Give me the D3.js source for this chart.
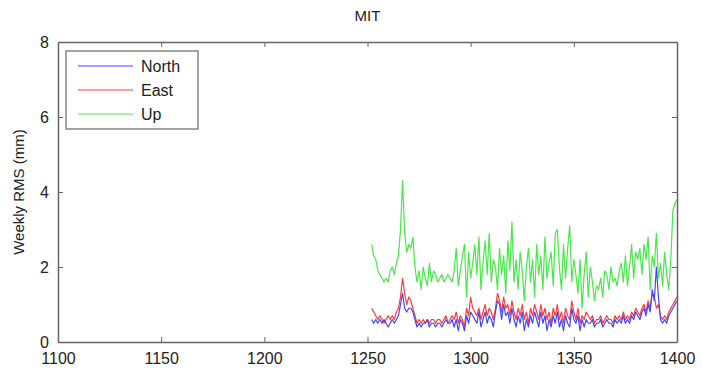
<!DOCTYPE html>
<html>
<head>
<meta charset="utf-8">
<script src="https://cdn.jsdelivr.net/npm/d3@7"></script>
<style>
  html, body { margin: 0; padding: 0; background: #fff; overflow: hidden; }
  svg { display: block; font-family: "Liberation Sans", Arial, sans-serif; }
</style>
</head>
<body>
<div id="chart"></div>
<script>
// Weekly RMS values (mm), GPS weeks 1252..1400
var startWeek = 1252;

var northValues = [
  0.6, 0.5, 0.6, 0.5, 0.6, 0.5, 0.6, 0.5, 0.4, 0.5,
  0.6, 0.5, 0.6, 0.7, 1.0, 1.3, 0.9, 0.8, 0.9, 0.9,
  0.8, 0.6, 0.4, 0.5, 0.4, 0.5, 0.5, 0.6, 0.4, 0.5,
  0.5, 0.4, 0.5, 0.5, 0.4, 0.5, 0.6, 0.5, 0.5, 0.6,
  0.4, 0.6, 0.3, 0.6, 0.5, 0.3, 0.7, 0.5, 0.8, 0.7,
  0.6, 0.5, 0.8, 0.4, 0.6, 0.8, 0.5, 0.7, 0.6, 0.4,
  0.8, 1.1, 1.0, 0.6, 1.0, 0.7, 0.8, 0.5, 0.9, 0.6,
  0.4, 0.7, 0.5, 0.8, 0.3, 0.6, 0.4, 0.7, 0.5, 0.8,
  0.6, 0.4, 0.8, 0.5, 0.7, 0.3, 0.6, 0.4, 0.7, 0.5,
  0.8, 0.4, 0.6, 0.3, 0.7, 0.5, 0.4, 0.9, 0.6, 0.5,
  0.7, 0.3, 0.6, 0.4, 0.6, 0.5, 0.5, 0.6, 0.4, 0.5,
  0.5, 0.6, 0.4, 0.5, 0.6, 0.5, 0.5, 0.4, 0.6, 0.5,
  0.6, 0.5, 0.7, 0.5, 0.6, 0.5, 0.7, 0.6, 0.8, 0.7,
  0.6, 0.8, 0.9, 0.7, 1.0, 0.8, 1.4, 1.1, 2.0, 1.2,
  0.6, 0.5, 0.6, 0.5, 0.7, 0.8, 0.9, 1.0, 1.1
];

var eastValues = [
  0.9, 0.8, 0.7, 0.6, 0.7, 0.6, 0.5, 0.6, 0.7, 0.6,
  0.7, 0.6, 0.8, 0.9, 1.2, 1.7, 1.3, 1.0, 1.2, 1.1,
  0.9, 0.7, 0.5, 0.6, 0.5, 0.6, 0.5, 0.6, 0.5, 0.6,
  0.6, 0.5, 0.6, 0.6, 0.5, 0.6, 0.7, 0.5, 0.6, 0.7,
  0.6, 0.8, 0.5, 0.7, 0.6, 0.4, 0.9, 0.7, 1.2, 0.9,
  0.8, 0.7, 0.9, 0.6, 0.8, 1.0, 0.7, 0.9, 0.8, 0.6,
  0.9, 1.3, 1.1, 0.8, 1.2, 0.9, 1.0, 0.7, 1.1, 0.8,
  0.6, 0.9, 0.7, 1.0, 0.6, 0.8, 0.5, 0.9, 0.7, 1.0,
  0.8, 0.6, 1.0, 0.7, 0.9, 0.6, 0.8, 0.5, 0.9, 0.7,
  1.0, 0.6, 0.8, 0.5, 0.9, 0.7, 0.6, 1.1, 0.8, 0.6,
  0.9, 0.5, 0.7, 0.6, 0.8, 0.7, 0.6, 0.7, 0.5, 0.6,
  0.6, 0.7, 0.5, 0.6, 0.7, 0.6, 0.6, 0.5, 0.7, 0.6,
  0.7, 0.6, 0.8, 0.6, 0.7, 0.6, 0.8, 0.7, 0.9, 0.8,
  0.7, 0.9, 1.0, 0.8, 1.1, 0.9, 1.3, 1.2, 0.9, 1.0,
  0.7, 0.6, 0.7, 0.6, 0.8, 0.9, 1.0, 1.1, 1.2
];

var upValues = [
  2.6, 2.3, 2.2, 1.9, 1.8, 1.7, 1.6, 1.7, 1.6, 1.9,
  2.0, 1.8, 2.1, 2.3, 3.0, 4.3, 2.9, 2.4, 2.6, 2.5,
  2.8, 2.0, 1.6, 1.9, 1.4, 2.0, 1.7, 1.5, 2.1, 1.6,
  1.9, 1.8, 1.6, 1.7, 1.8, 1.6, 1.7, 1.8, 1.7, 1.6,
  1.9, 2.5, 1.5, 1.9, 2.3, 2.6, 1.2, 2.4, 1.7, 2.1,
  2.6, 1.8, 2.8, 1.4, 2.1, 2.7, 1.8, 2.9, 1.6, 2.2,
  2.0, 1.4, 2.5, 1.8, 2.3, 1.3, 2.7, 1.9, 3.2, 1.6,
  2.2, 1.4, 2.4, 1.9, 1.1, 2.0, 2.5, 1.6, 2.2, 1.2,
  2.6, 1.8, 2.3, 1.4, 2.8, 1.7, 2.1, 2.4, 1.5, 2.9,
  3.0, 2.0, 1.4, 2.6, 1.7, 2.5, 3.1, 1.6, 2.2, 1.8,
  1.3, 2.2, 0.9, 1.8, 2.4, 1.2, 2.0, 1.6, 1.1, 1.5,
  1.4, 1.7, 1.2, 1.9, 1.8, 1.4, 2.0, 1.6, 1.7, 1.5,
  1.9, 2.1, 1.6, 2.3, 1.5, 2.0, 2.6, 1.7, 2.4, 2.2,
  2.5, 1.8, 2.6, 2.2, 2.8, 1.4, 2.3, 2.0, 2.9, 1.7,
  2.1, 1.5, 2.4, 1.8, 1.4, 2.2, 3.5, 3.7, 3.8
];

var seriesNames = ["North", "East", "Up"];
var seriesColors = ["#4545ff", "#ff3a3a", "#48e848"];
var xTicks = [1100, 1150, 1200, 1250, 1300, 1350, 1400];
var yTicks = [0, 2, 4, 6, 8];

var width = 702;
var height = 372;
var margin = { top: 42, right: 25, bottom: 30, left: 58 };
var innerWidth = width - margin.left - margin.right;
var innerHeight = height - margin.top - margin.bottom;

var svg = d3
  .select("#chart")
  .append("svg")
  .attr("width", width)
  .attr("height", height);

var g = svg
  .append("g")
  .attr("transform", "translate(" + margin.left + "," + margin.top + ")");

var xScale = d3.scaleLinear().domain([1100, 1400]).range([0, innerWidth]);
var yScale = d3.scaleLinear().domain([0, 8]).range([innerHeight, 0]);

// Build series from the value arrays
var allValues = [northValues, eastValues, upValues];
var series = allValues.map(function (vals, i) {
  return {
    name: seriesNames[i],
    color: seriesColors[i],
    points: vals.map(function (v, j) {
      return { week: startWeek + j, value: v };
    }),
  };
});

var line = d3
  .line()
  .x((d) => xScale(d.week))
  .y((d) => yScale(d.value));

// Draw Up first so North/East sit on top
[2, 1, 0].forEach(function (i) {
  g.append("path")
    .datum(series[i].points)
    .attr("fill", "none")
    .attr("stroke", series[i].color)
    .attr("stroke-width", 1.2)
    .attr("stroke-linejoin", "round")
    .attr("d", line);
});

// Axes box with inward ticks (matlab style)
var axisColor = "#666";
var tickLen = 5;

var xAxis = d3.axisBottom(xScale).tickValues(xTicks).tickFormat(d3.format("d"))
  .tickSizeInner(-tickLen).tickSizeOuter(0).tickPadding(11);
var yAxis = d3.axisLeft(yScale).tickValues(yTicks).tickFormat(d3.format("d"))
  .tickSizeInner(-tickLen).tickSizeOuter(0).tickPadding(9);

g.append("g")
  .attr("transform", "translate(0," + innerHeight + ")")
  .call(xAxis);
g.append("g").call(yAxis);

// top and right sides of the box, ticks only
var topAxis = g.append("g")
  .call(d3.axisTop(xScale).tickValues(xTicks).tickSizeInner(-tickLen).tickSizeOuter(0));
var rightAxis = g.append("g")
  .attr("transform", "translate(" + innerWidth + ",0)")
  .call(d3.axisRight(yScale).tickValues(yTicks).tickSizeInner(-tickLen).tickSizeOuter(0));
topAxis.selectAll("text").remove();
rightAxis.selectAll("text").remove();

g.selectAll(".domain").attr("stroke", axisColor).attr("stroke-width", 1.5);
g.selectAll(".tick line").attr("stroke", axisColor);
g.selectAll(".tick text")
  .attr("fill", "#222")
  .attr("font-size", "16px")
  .attr("font-family", "Liberation Sans, Arial, sans-serif");

// Title
svg
  .append("text")
  .attr("x", margin.left + innerWidth / 2)
  .attr("y", 21)
  .attr("text-anchor", "middle")
  .attr("font-size", "15px")
  .attr("fill", "#222")
  .text("MIT");

// Y label
svg
  .append("text")
  .attr("transform", "translate(24," + (margin.top + innerHeight / 2) + ") rotate(-90)")
  .attr("text-anchor", "middle")
  .attr("font-size", "15px")
  .attr("fill", "#222")
  .text("Weekly RMS (mm)");

// Legend
var legend = g.append("g").attr("transform", "translate(8,9)");
legend
  .append("rect")
  .attr("width", 132)
  .attr("height", 78)
  .attr("fill", "#fff")
  .attr("stroke", axisColor)
  .attr("stroke-width", 1.2);

series.forEach(function (s, i) {
  var yy = 15 + i * 24;
  legend
    .append("line")
    .attr("x1", 12)
    .attr("x2", 67)
    .attr("y1", yy)
    .attr("y2", yy)
    .attr("stroke", s.color)
    .attr("stroke-width", 1.2);
  legend
    .append("text")
    .attr("x", 75)
    .attr("y", yy)
    .attr("dy", "0.35em")
    .attr("font-size", "16px")
    .attr("fill", "#222")
    .text(s.name);
});
</script>
</body>
</html>
